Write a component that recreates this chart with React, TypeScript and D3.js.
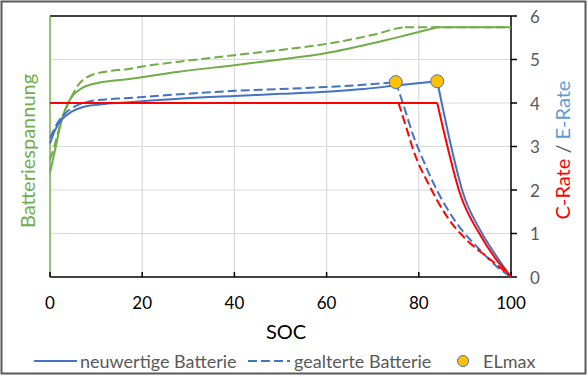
import React from "react";
import * as d3 from "d3";

// ---- data (SOC in %, values in axis units) ----
const xTicks = [0, 20, 40, 60, 80, 100];
const yTicks = [0, 1, 2, 3, 4, 5, 6];

// Battery voltage, new battery (green solid)
const greenNewSoc = [0, 1.1, 2.2, 3.25, 4.7, 6.9, 9.8, 13.4, 16.3, 28, 40, 50, 60, 71.4, 75.8, 84];
const greenNewVal = [2.4, 2.92, 3.46, 3.84, 4.14, 4.34, 4.45, 4.51, 4.54, 4.72, 4.87, 5.0, 5.15, 5.41, 5.52, 5.74];
const greenNewFlatSoc = [84, 100];
const greenNewFlatVal = [5.74, 5.74];

// Battery voltage, aged battery (green dashed)
const greenOldSoc = [0, 0.7, 1.1, 2.5, 4, 6.1, 9, 13.4, 16.3, 20, 28, 40, 50, 60, 68, 72, 75, 77];
const greenOldVal = [2.7, 2.92, 3.07, 3.61, 3.99, 4.41, 4.64, 4.74, 4.77, 4.84, 4.95, 5.1, 5.22, 5.36, 5.52, 5.62, 5.71, 5.74];
const greenOldFlatSoc = [77, 100];
const greenOldFlatVal = [5.74, 5.74];

// E-Rate new (blue solid)
const blueNewSoc = [0, 1.1, 2.5, 4.7, 7.6, 11.2, 16.3, 20, 28, 40, 50, 60, 68, 75, 84];
const blueNewVal = [3.07, 3.38, 3.61, 3.8, 3.92, 3.97, 4.01, 4.04, 4.1, 4.16, 4.21, 4.26, 4.32, 4.4, 4.5];
const blueNewDropSoc = [84, 87.2, 89.6, 93.3, 96.9, 100];
const blueNewDropVal = [4.5, 2.92, 1.93, 1.08, 0.47, 0];

// E-Rate aged (blue dashed)
const blueOldSoc = [0, 1.8, 3.25, 5.4, 8.3, 11.9, 16.3, 28, 40, 50, 60, 68, 75];
const blueOldVal = [3.2, 3.57, 3.76, 3.92, 4.03, 4.08, 4.11, 4.2, 4.28, 4.32, 4.37, 4.42, 4.48];
const blueOldDropSoc = [75, 76.6, 78.8, 80.5, 83.9, 88.2, 93.3, 96.9, 100];
const blueOldDropVal = [4.48, 3.98, 3.25, 2.8, 2.0, 1.24, 0.62, 0.24, 0];

// C-Rate new (red solid)
const redNewSoc = [0, 84];
const redNewVal = [4, 4];
const redNewDropSoc = [84, 86.4, 88.9, 93.3, 96.9, 99.3, 100];
const redNewDropVal = [4, 2.92, 1.93, 0.97, 0.39, 0.09, 0];

// C-Rate aged (red dashed)
const redOldSoc = [0, 75.6];
const redOldVal = [4, 4];
const redOldDropSoc = [75.6, 77.4, 78.8, 82.4, 86.1, 90.4, 94.7, 98.3, 100];
const redOldDropVal = [4, 3.4, 2.92, 2.08, 1.39, 0.85, 0.47, 0.16, 0];

// ELmax markers
const elmaxSoc = [75, 84];
const elmaxVal = [4.48, 4.5];

const legendLabels = ["neuwertige Batterie", "gealterte Batterie", "ELmax"];

// ---- styling ----
const GREEN = "#70AD47";
const BLUE = "#4472C4";
const RED = "#FF0000";
const GOLD = "#FFC000";
const GRID = "#D9D9D9";
const TEXT = "#595959";
const FONT = "Lato, 'Open Sans', sans-serif";
const DASH = "9 4";

const W = 588;
const H = 377;
const L = 50, R = 511, T = 16, B = 277;

export default function App() {
  const x = d3.scaleLinear().domain([0, 100]).range([L, R]);
  const y = d3.scaleLinear().domain([0, 6]).range([B, T]);
  const yLeft = d3.scaleLinear().domain([0, 6]).range([B, T]);

  const mk = (sx: number[], sv: number[], ys: d3.ScaleLinear<number, number>) =>
    d3.line<number>()
      .x((i) => x(sx[i]))
      .y((i) => ys(sv[i]))
      .curve(d3.curveMonotoneX)(sx.map((_, i) => i)) || "";

  const series = [
    { sx: greenOldSoc, sv: greenOldVal, c: GREEN, d: true, s: yLeft },
    { sx: greenOldFlatSoc, sv: greenOldFlatVal, c: GREEN, d: true, s: yLeft },
    { sx: greenNewSoc, sv: greenNewVal, c: GREEN, d: false, s: yLeft },
    { sx: greenNewFlatSoc, sv: greenNewFlatVal, c: GREEN, d: false, s: yLeft },
    { sx: blueOldSoc, sv: blueOldVal, c: BLUE, d: true, s: y },
    { sx: blueOldDropSoc, sv: blueOldDropVal, c: BLUE, d: true, s: y },
    { sx: blueNewSoc, sv: blueNewVal, c: BLUE, d: false, s: y },
    { sx: blueNewDropSoc, sv: blueNewDropVal, c: BLUE, d: false, s: y },
    { sx: redNewSoc, sv: redNewVal, c: RED, d: false, s: y },
    { sx: redNewDropSoc, sv: redNewDropVal, c: RED, d: false, s: y },
    { sx: redOldSoc, sv: redOldVal, c: RED, d: true, s: y },
    { sx: redOldDropSoc, sv: redOldDropVal, c: RED, d: true, s: y },
  ];

  const legY = 361;

  return (
    <svg
      width={W}
      height={H}
      style={{ position: "absolute", left: 0, top: 0, background: "#fff" }}
      fontFamily={FONT}
    >
      <rect x={0} y={0} width={W} height={H} fill="#fff" />
      <rect x={1.5} y={1.5} width={584} height={372} fill="none" stroke="#595959" strokeWidth={2} />

      {/* gridlines */}
      {yTicks.filter((t) => t > 0 && t < 6).map((t) => (
        <line key={"gy" + t} x1={L} x2={R} y1={y(t)} y2={y(t)} stroke={GRID} strokeWidth={1.2} />
      ))}
      {xTicks.filter((t) => t > 0 && t < 100).map((t) => (
        <line key={"gx" + t} x1={x(t)} x2={x(t)} y1={T} y2={B} stroke={GRID} strokeWidth={1.2} />
      ))}

      {/* frame/axes */}
      <line x1={L} x2={R} y1={T} y2={T} stroke="#000" strokeWidth={1.5} />
      <line x1={L} x2={R} y1={B} y2={B} stroke="#000" strokeWidth={1.5} />
      <line x1={R} x2={R} y1={T} y2={B} stroke="#000" strokeWidth={1.5} />
      <line x1={L} x2={L} y1={T} y2={B} stroke={GREEN} strokeWidth={1.5} />
      {xTicks.map((t) => (
        <line key={"tx" + t} x1={x(t)} x2={x(t)} y1={B} y2={B - 5} stroke="#000" strokeWidth={1.5} />
      ))}
      {yTicks.map((t) => (
        <line key={"ty" + t} x1={R} x2={R + 6} y1={y(t)} y2={y(t)} stroke="#000" strokeWidth={1.5} />
      ))}

      {/* curves */}
      {series.map((s, i) => (
        <path
          key={"s" + i}
          d={mk(s.sx, s.sv, s.s)}
          fill="none"
          stroke={s.c}
          strokeWidth={2}
          strokeDasharray={s.d ? DASH : undefined}
        />
      ))}

      {/* ELmax markers */}
      {elmaxSoc.map((s, i) => (
        <circle key={"m" + i} cx={x(s)} cy={y(elmaxVal[i])} r={6.5} fill={GOLD} stroke={BLUE} strokeWidth={1} />
      ))}

      {/* tick labels */}
      {xTicks.map((t) => (
        <text key={"lx" + t} x={x(t)} y={302} textAnchor="middle" dominantBaseline="central" fontSize={17} fill="#000">
          {t}
        </text>
      ))}
      {yTicks.map((t) => (
        <text key={"ly" + t} x={530} y={y(t)} dominantBaseline="central" fontSize={17} fill={TEXT}>
          {t}
        </text>
      ))}

      {/* axis titles */}
      <text x={286} y={331} textAnchor="middle" dominantBaseline="central" fontSize={20} fill="#000">
        SOC
      </text>
      <text
        transform={`translate(27,151) rotate(-90)`}
        textAnchor="middle"
        dominantBaseline="central"
        fontSize={20}
        fill={GREEN}
      >
        Batteriespannung
      </text>
      <text
        transform={`translate(562,150) rotate(-90)`}
        textAnchor="middle"
        dominantBaseline="central"
        fontSize={20}
      >
        <tspan fill={RED}>C-Rate</tspan>
        <tspan fill={TEXT}> / </tspan>
        <tspan fill="#5B9BD5">E-Rate</tspan>
      </text>

      {/* legend */}
      <line x1={34} x2={77} y1={legY} y2={legY} stroke={BLUE} strokeWidth={2} />
      <text x={80} y={legY} dominantBaseline="central" fontSize={18} fill={TEXT}>
        {legendLabels[0]}
      </text>
      <line x1={248} x2={290} y1={legY} y2={legY} stroke={BLUE} strokeWidth={2} strokeDasharray={DASH} />
      <text x={294} y={legY} dominantBaseline="central" fontSize={18} fill={TEXT}>
        {legendLabels[1]}
      </text>
      <circle cx={463} cy={legY} r={5.5} fill={GOLD} stroke={BLUE} strokeWidth={1} />
      <text x={483} y={legY} dominantBaseline="central" fontSize={18} fill={TEXT}>
        {legendLabels[2]}
      </text>
    </svg>
  );
}
